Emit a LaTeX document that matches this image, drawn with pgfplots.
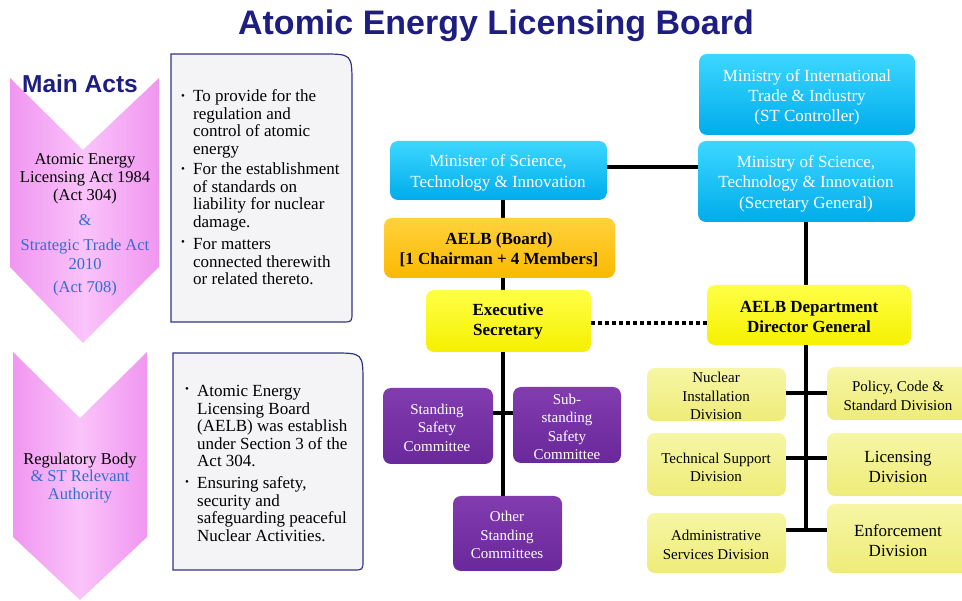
\documentclass[border=0pt]{standalone}
\usepackage{pgfplots}
\pgfplotsset{compat=1.18}
\usepackage{fontspec}
\setmainfont{Liberation Serif}
\newfontfamily\headfont{Liberation Sans}

\definecolor{navy}{RGB}{30,30,130}
\definecolor{pinkL}{RGB}{250,195,250}
\definecolor{pinkD}{RGB}{240,150,240}
\definecolor{actblue}{RGB}{50,110,210}
\definecolor{boxline}{RGB}{50,50,140}
\definecolor{boxfill}{RGB}{244,244,246}
\definecolor{blueT}{RGB}{60,215,255}
\definecolor{blueB}{RGB}{0,172,235}
\definecolor{orgT}{RGB}{255,210,60}
\definecolor{orgB}{RGB}{250,185,0}
\definecolor{yelT}{RGB}{255,255,70}
\definecolor{yelB}{RGB}{245,240,0}
\definecolor{divT}{RGB}{246,246,165}
\definecolor{divB}{RGB}{238,236,120}
\definecolor{purT}{RGB}{130,60,175}
\definecolor{purB}{RGB}{105,40,155}

\newcommand\fs[2]{\fontsize{#1}{#2}\selectfont}
% rounded box, colour prefix, then top-left and bottom-right corners (y runs down)
\newcommand\rbox[5]{\path[rounded corners=8pt,top color=#1T,bottom color=#1B] (#2,#3) rectangle (#4,#5);}

\begin{document}
\begin{tikzpicture}
\useasboundingbox (0,0) rectangle (962pt,601pt);
\clip (0,0) rectangle (962pt,601pt);
\begin{axis}[
    at={(0,0)}, anchor=south west,
    width=962pt, height=601pt, scale only axis,
    xmin=0, xmax=962, ymin=0, ymax=601,
    y dir=reverse,
    hide axis,
    clip=false
]

% connectors
\addplot[black,line width=4pt,mark=none] coordinates {(607,167) (698,167)};
\addplot[black,line width=4pt,mark=none] coordinates {(503,200) (503,218)};
\addplot[black,line width=4pt,mark=none] coordinates {(503,278) (503,290)};
\addplot[black,line width=4pt,mark=none,dash pattern=on 4pt off 3pt] coordinates {(591,323) (707,323)};
\addplot[black,line width=4pt,mark=none] coordinates {(806,222) (806,285)};
\addplot[black,line width=4pt,mark=none] coordinates {(503,350) (503,496)};
\addplot[black,line width=4pt,mark=none] coordinates {(493,413) (513,413)};
\addplot[black,line width=4pt,mark=none] coordinates {(806,345) (806,532)};
\addplot[black,line width=4pt,mark=none] coordinates {(786,393) (827,393)};
\addplot[black,line width=4pt,mark=none] coordinates {(786,458) (827,458)};
\addplot[black,line width=4pt,mark=none] coordinates {(786,530) (827,530)};

% title
\node[font=\headfont\bfseries\fs{34}{40},text=navy,anchor=base] at (496,35) {Atomic Energy Licensing Board};

% chevrons
\path[left color=pinkD,right color=pinkD,middle color=pinkL]
  (10,78) -- (83,150) -- (159,78) -- (159,267) -- (83,343) -- (10,267) -- cycle;
\path[left color=pinkD,right color=pinkD,middle color=pinkL]
  (13,352) -- (80,418) -- (147,352) -- (147,537) -- (80,600) -- (13,537) -- cycle;

\node[font=\headfont\bfseries\fs{24.5}{28},text=navy,anchor=base] at (80,93) {Main Acts};

\node[font=\fs{16.5}{18},align=center] at (85,179) {Atomic Energy\\Licensing Act 1984\\(Act 304)};
\node[font=\fs{16.5}{18},text=actblue,anchor=base] at (85,226) {\&};
\node[font=\fs{16.5}{19},align=center,text=actblue] at (85,254) {Strategic Trade Act\\2010};
\node[font=\fs{16.5}{18},text=actblue,anchor=base] at (85,292.5) {(Act 708)};

\node[font=\fs{16.5}{17.5},align=center] at (80,478) {Regulatory Body\\\textcolor{actblue}{\& ST Relevant}\\\textcolor{actblue}{Authority}};

% description boxes
\draw[boxline,line width=1.2pt,fill=boxfill]
  (171,54) -- (322,54) .. controls (352,54) .. (352,84) -- (352,312)
  .. controls (352,322) .. (342,322) -- (171,322) -- cycle;
\draw[boxline,line width=1.2pt,fill=boxfill]
  (173,353) -- (333,353) .. controls (363,353) .. (363,383) -- (363,560)
  .. controls (363,570) .. (353,570) -- (173,570) -- cycle;

\node[font=\fs{11}{12}] at (183,97) {•};
\node[font=\fs{11}{12}] at (183,170) {•};
\node[font=\fs{11}{12}] at (183,243) {•};
\node[font=\fs{17}{17.5},align=left,anchor=west,inner sep=0pt] at (193,124) {To provide for the\\regulation and\\control of atomic\\energy};
\node[font=\fs{17}{17.5},align=left,anchor=west,inner sep=0pt] at (193,197) {For the establishment\\of standards on\\liability for nuclear\\damage.};
\node[font=\fs{17}{17.5},align=left,anchor=west,inner sep=0pt] at (193,262) {For matters\\connected therewith\\or related thereto.};

\node[font=\fs{11}{12}] at (187,390) {•};
\node[font=\fs{11}{12}] at (187,483) {•};
\node[font=\fs{17}{17.5},align=left,anchor=west,inner sep=0pt] at (197,426) {Atomic Energy\\Licensing Board\\(AELB) was establish\\under Section 3 of the\\Act 304.};
\node[font=\fs{17}{17.5},align=left,anchor=west,inner sep=0pt] at (197,509) {Ensuring safety,\\security and\\safeguarding peaceful\\Nuclear Activities.};

% ministries
\rbox{blue}{699}{54}{915}{135}
\rbox{blue}{390}{141}{607}{200}
\rbox{blue}{698}{141}{915}{222}
\node[font=\fs{17}{20},align=center,text=white] at (807,97) {Ministry of International\\Trade \& Industry\\(ST Controller)};
\node[font=\fs{17}{21},align=center,text=white] at (498,172.5) {Minister of Science,\\Technology \& Innovation};
\node[font=\fs{17}{20.5},align=center,text=white] at (806,183.5) {Ministry of Science,\\Technology \& Innovation\\(Secretary General)};

% board and secretariats
\rbox{org}{384}{218}{615}{278}
\rbox{yel}{426}{290}{591}{352}
\rbox{yel}{707}{285}{911}{345}
\node[font=\bfseries\fs{17}{20},align=center] at (499,250) {AELB (Board)\\{[}1 Chairman + 4 Members{]}};
\node[font=\bfseries\fs{17}{20},align=center] at (508,321) {Executive\\Secretary};
\node[font=\bfseries\fs{17}{20},align=center] at (809,317) {AELB Department\\Director General};

% committees
\rbox{pur}{383}{388}{493}{464}
\rbox{pur}{513}{387}{621}{463}
\rbox{pur}{453}{496}{562}{571}
\node[font=\fs{15}{18.5},align=center,text=white] at (437,427.5) {Standing\\Safety\\Committee};
\node[font=\fs{15}{18.5},align=center,text=white] at (567,427) {Sub-\\standing\\Safety\\Committee};
\node[font=\fs{15}{18.5},align=center,text=white] at (507,535) {Other\\Standing\\Committees};

% divisions
\rbox{div}{647}{368}{786}{421}
\rbox{div}{827}{367}{975}{420}
\rbox{div}{647}{433}{786}{496}
\rbox{div}{827}{433}{975}{496}
\rbox{div}{647}{513}{786}{573}
\rbox{div}{827}{504}{975}{573}
\node[font=\fs{15}{18.5},align=center] at (716,396) {Nuclear\\Installation\\Division};
\node[font=\fs{15}{19},align=center] at (898,395.5) {Policy, Code \&\\Standard Division};
\node[font=\fs{15}{18},align=center] at (716,467) {Technical Support\\Division};
\node[font=\fs{17}{19.5},align=center] at (898,467) {Licensing\\Division};
\node[font=\fs{15}{19},align=center] at (716,544.5) {Administrative\\Services Division};
\node[font=\fs{17}{19.5},align=center] at (898,540.5) {Enforcement\\Division};

\end{axis}
\end{tikzpicture}
\end{document}
